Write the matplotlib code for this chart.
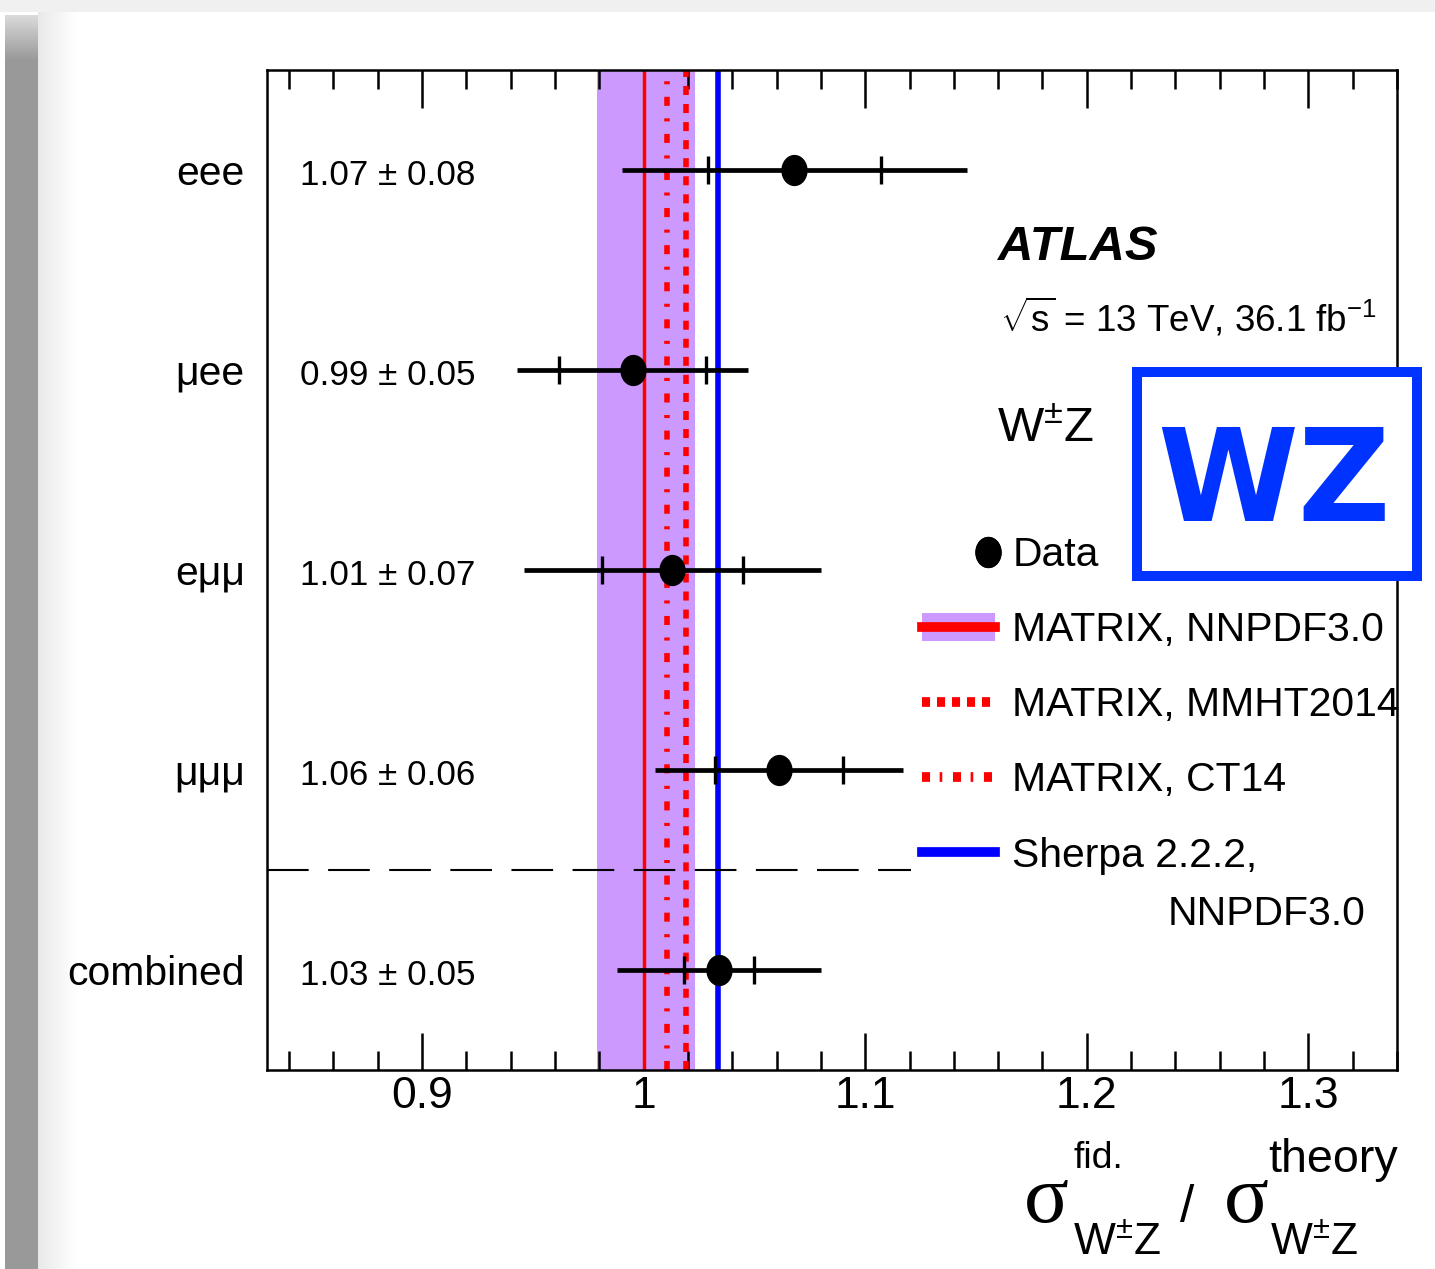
"""ATLAS W±Z fiducial cross-section ratio summary (data / theory)."""
import numpy as np
import matplotlib
matplotlib.use("Agg")
import matplotlib.pyplot as plt
from matplotlib import font_manager as fm
from matplotlib.path import Path
from matplotlib.lines import Line2D
from matplotlib.patches import Patch
from matplotlib.legend_handler import HandlerLine2D

W, H = 1435, 1269

names = {f.name for f in fm.fontManager.ttflist}
NARROW = "Liberation Sans Narrow" in names
FAM = "Liberation Sans Narrow" if NARROW else "Liberation Sans"
S = 1.0 if NARROW else 0.84

plt.rcParams["font.family"] = [FAM, "DejaVu Sans"]
plt.rcParams["mathtext.fontset"] = "custom"
plt.rcParams["mathtext.rm"] = FAM
plt.rcParams["mathtext.it"] = FAM + ":italic"
plt.rcParams["mathtext.bf"] = FAM + ":bold"
plt.rcParams["lines.scale_dashes"] = False

# ---- data ----
channels = ["eee", "μee", "eμμ", "μμμ", "combined"]
ratio = [1.068, 0.995, 1.013, 1.061, 1.034]
err_tot = [0.078, 0.052, 0.067, 0.056, 0.046]
err_stat = [0.039, 0.033, 0.032, 0.029, 0.016]
ratio_text = ["1.07 ± 0.08", "0.99 ± 0.05", "1.01 ± 0.07", "1.06 ± 0.06", "1.03 ± 0.05"]

nnpdf = 1.0
nnpdf_band = (0.979, 1.023)
mmht = 1.019
ct14 = 1.0105
sherpa = 1.0334

xticks = [0.9, 1.0, 1.1, 1.2, 1.3]
xticklabels = ["0.9", "1", "1.1", "1.2", "1.3"]

ypos = np.arange(len(channels), 0, -1)  # 5..1 top to bottom
ratio = np.array(ratio)
err_tot = np.array(err_tot)
err_stat = np.array(err_stat)


def fx(x):
    return x / W


def fy(y):
    return 1 - y / H


class MarkerRight(HandlerLine2D):
    """ROOT-style legend: single marker at the right end of the handle."""
    def get_numpoints(self, legend):
        return 2

    def get_xdata(self, legend, xdescent, ydescent, width, height, fontsize):
        xr = -xdescent + width - 5
        xd = np.array([xr, xr])
        return xd, xd


fig = plt.figure(figsize=(W / 100, H / 100), dpi=100)

# slide-like shadow on the left / top
bg = fig.add_axes([0, 0, 1, 1], zorder=-10)
img = np.ones((H, W))
img[:12, :] = 0.94
strip = np.full(H, 0.60)
strip[:60] = np.linspace(0.94, 0.60, 60)
img[15:, 5:38] = strip[15:, None]
grad = np.linspace(0.91, 1.0, 40)
img[12:, 38:78] = grad[None, :]
bg.imshow(img, cmap="gray", vmin=0, vmax=1, aspect="auto", interpolation="bilinear")
bg.axis("off")

ax = fig.add_axes([fx(267), fy(1070), fx(1130), 1000 / H])
ax.set_xlim(0.83, 1.34)
ax.set_ylim(0.5, 5.5)

# theory predictions
ax.axvspan(*nnpdf_band, color="#cc99ff", lw=0, zorder=1)
ax.axvline(nnpdf, color="red", lw=2.5, zorder=2)
ax.axvline(ct14, color="red", lw=4, dashes=(6.5, 9, 2.2, 9), zorder=2)
ax.axvline(mmht, color="red", lw=4, dashes=(6.5, 6.5), zorder=2)
ax.axvline(sherpa, color="blue", lw=4, zorder=2)

# separator between channels and combined
ax.axhline(1.5, xmax=0.57, color="black", lw=1.5, dashes=(30, 14), zorder=2)

# data
circ = Path.unit_circle()
ell = Path(circ.vertices * [1, 1.2], circ.codes)
ax.errorbar(ratio, ypos, xerr=err_tot, fmt="none", ecolor="black",
            elinewidth=3.4, capsize=0, zorder=4)
ax.plot(ratio - err_stat, ypos, ls="none", marker="|", ms=19.5, mew=2.4,
        color="black", zorder=4)
ax.plot(ratio + err_stat, ypos, ls="none", marker="|", ms=19.5, mew=2.4,
        color="black", zorder=4)
ax.plot(ratio, ypos, ls="none", marker=ell, ms=21.5, color="black", zorder=5)

for y, t in zip(ypos, ratio_text):
    ax.text(0.029, y - 0.075, t, transform=ax.get_yaxis_transform(), ha="left",
            va="baseline", fontsize=30 * S)

# axes style
ax.set_xticks(xticks)
ax.set_xticklabels(xticklabels)
ax.set_xticks(np.arange(0.84, 1.341, 0.02), minor=True)
ax.tick_params(axis="x", which="both", direction="in", top=True, bottom=True,
               width=1.8, labelsize=38 * S, pad=4)
ax.tick_params(axis="x", which="major", length=27)
ax.tick_params(axis="x", which="minor", length=13.5)
ax.set_yticks(ypos)
ax.set_yticklabels(channels)
ax.tick_params(axis="y", length=0, labelsize=35 * S, pad=16)
for sp in ax.spines.values():
    sp.set_linewidth(1.8)

# legend
h_data = Line2D([], [], ls="none", marker=ell, ms=21.5, color="black")
h_nnpdf = (Patch(facecolor="#cc99ff", lw=0), Line2D([], [], color="red", lw=7))
h_mmht = Line2D([], [], color="red", lw=7, dashes=(5.8, 5))
h_ct14 = Line2D([], [], color="red", lw=7, dashes=(5.8, 6.9, 1.9, 7.7))
h_sherpa = Line2D([], [], color="blue", lw=7)
ax.legend([h_data, h_nnpdf, h_mmht, h_ct14, h_sherpa],
          ["Data", "MATRIX, NNPDF3.0", "MATRIX, MMHT2014", "MATRIX, CT14",
           "Sherpa 2.2.2,"],
          handler_map={h_data: MarkerRight()},
          loc="upper left", bbox_to_anchor=(0.5796, 0.534), frameon=False,
          fontsize=35 * S, borderpad=0, borderaxespad=0, handlelength=1.79,
          handletextpad=0.42, labelspacing=0.91, handleheight=0.7)
fig.text(fx(1168), fy(925), "NNPDF3.0", fontsize=35 * S, ha="left", va="baseline")

# labels
fig.text(fx(998), fy(260), "ATLAS", fontsize=42 * S, fontweight="bold",
         fontstyle="italic", ha="left", va="baseline")
fig.text(fx(1000), fy(332), r"$\sqrt{\mathrm{s}}$ = 13 TeV, 36.1 fb$^{-1}$",
         fontsize=31.5 * S, ha="left", va="baseline")
fig.text(fx(997), fy(442), r"W$^{\pm}$Z", fontsize=42 * S, ha="left", va="baseline")

# x-axis title built from pieces
fig.text(fx(1024), fy(1222), "σ", family="Liberation Serif", fontsize=60,
         ha="left", va="baseline")
fig.text(fx(1073), fy(1168), "fid.", fontsize=32 * S, ha="left", va="baseline")
fig.text(fx(1073), fy(1255), r"W$^{\pm}$Z", fontsize=38 * S, ha="left", va="baseline")
fig.text(fx(1180), fy(1222), "/", fontsize=44 * S, ha="left", va="baseline")
fig.text(fx(1224), fy(1222), "σ", family="Liberation Serif", fontsize=60,
         ha="left", va="baseline")
fig.text(fx(1268), fy(1172), "theory", fontsize=40 * S, ha="left", va="baseline")
fig.text(fx(1270), fy(1255), r"W$^{\pm}$Z", fontsize=38 * S, ha="left", va="baseline")

# WZ logo
logo = fig.add_axes([fx(1137), fy(576), fx(280), 204 / H], zorder=10)
logo.set_xticks([])
logo.set_yticks([])
logo.set_facecolor("white")
for sp in logo.spines.values():
    sp.set_color("#0033ff")
    sp.set_linewidth(7.2)
logo.text(0.49, 0.27, "WZ", transform=logo.transAxes, ha="center", va="baseline",
          fontsize=92, color="#0033ff", family="DejaVu Sans", fontweight="bold")

fig.savefig("out.png", dpi=100)
